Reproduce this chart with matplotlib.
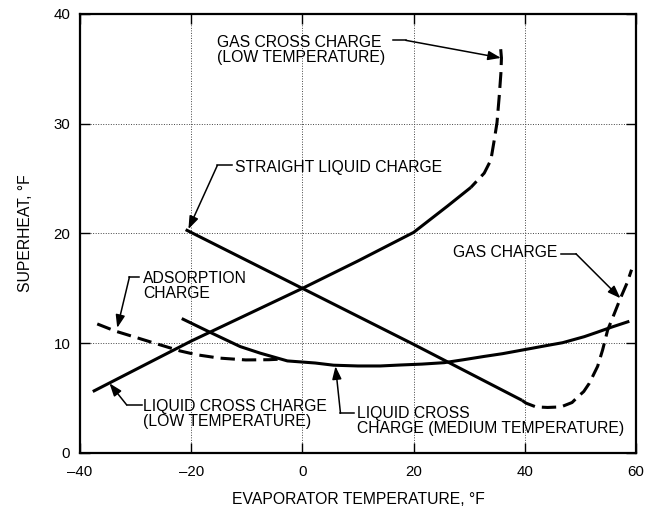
import matplotlib
matplotlib.use("Agg")
import matplotlib.pyplot as plt

plt.rcParams['font.family'] = ['Liberation Sans', 'DejaVu Sans']

# ---- data ----
straight_x = [-21.0, 0.0, 20.0, 39.5]
straight_y = [20.35, 15.0, 9.9, 4.8]

gas_x = [39.5, 40.2, 42.0, 44.1, 46.5, 48.5, 49.5, 50.6, 51.6, 53.1, 54.0, 54.9, 56.1, 57.2, 58.4, 59.2]
gas_y = [4.8, 4.55, 4.2, 4.15, 4.2, 4.6, 5.1, 5.6, 6.35, 7.9, 9.4, 11.2, 12.7, 14.1, 15.5, 16.7]

lcl_x = [-37.7, -20.0, 0.0, 10.0, 20.0, 26.1, 30.3]
lcl_y = [5.6, 10.2, 15.0, 17.5, 20.1, 22.5, 24.2]

gcl_x = [30.3, 32.7, 33.9, 34.5, 35.0, 35.4, 35.7, 35.8, 35.6]
gcl_y = [24.2, 25.5, 26.7, 28.5, 30.1, 32.5, 34.6, 36.0, 37.2]

ads_x = [-36.9, -33.6, -27.5, -22.0, -19.0, -15.0, -10.2, -6.0, -4.0]
ads_y = [11.76, 11.1, 10.15, 9.3, 8.95, 8.65, 8.48, 8.5, 8.55]

med_x = [-21.7, -16.2, -11.2, -7.6, -2.7, 2.3, 5.6, 10.0, 14.0, 17.7, 21.5, 25.5, 29.0,
         32.7, 36.0, 40.3, 43.5, 46.8, 50.7, 53.0, 55.5, 58.8]
med_y = [12.25, 10.9, 9.7, 9.1, 8.39, 8.2, 8.0, 7.93, 7.93, 8.02, 8.1, 8.23, 8.5,
         8.8, 9.05, 9.45, 9.75, 10.05, 10.6, 11.0, 11.45, 12.0]

x_ticks = [-40, -20, 0, 20, 40, 60]
x_tick_labels = ['\u201340', '\u201320', '0', '20', '40', '60']
y_ticks = [0, 10, 20, 30, 40]
y_tick_labels = ['0', '10', '20', '30', '40']

labels = [
    "GAS CROSS CHARGE\n(LOW TEMPERATURE)",
    "STRAIGHT LIQUID CHARGE",
    "ADSORPTION\nCHARGE",
    "LIQUID CROSS CHARGE\n(LOW TEMPERATURE)",
    "LIQUID CROSS\nCHARGE (MEDIUM TEMPERATURE)",
    "GAS CHARGE",
]

# ---- layout for annotations: (text pos, ha, stub start, bend, arrow tip) ----
ann_layout = [
    ((-15.3, 36.75), 'left', (16.3, 37.6), (18.6, 37.6), (35.7, 36.0)),
    ((-12.1, 26.0), 'left', (-12.7, 26.2), (-15.3, 26.2), (-20.5, 20.4)),
    ((-28.7, 15.25), 'left', (-29.4, 16.05), (-31.1, 16.05), (-33.3, 11.4)),
    ((-28.6, 3.55), 'left', (-28.9, 4.38), (-31.6, 4.38), (-34.7, 6.35)),
    ((9.85, 2.9), 'left', (9.3, 3.62), (6.85, 3.62), (5.95, 7.9)),
    ((45.9, 18.28), 'right', (46.6, 18.15), (49.2, 18.15), (57.2, 14.1)),
]

W, H = 656, 508
fig = plt.figure(figsize=(W / 100, H / 100), dpi=100)
ax = fig.add_axes([80 / W, 55 / H, 556 / W, 439 / H])

lw = 2.2
dash = (4.7, 2.3)
ax.plot(straight_x, straight_y, color='black', lw=lw, solid_capstyle='butt', zorder=3)
ax.plot(gas_x, gas_y, color='black', lw=lw, linestyle=(0, dash), zorder=3)
ax.plot(lcl_x, lcl_y, color='black', lw=lw, solid_capstyle='butt', zorder=3)
ax.plot(gcl_x, gcl_y, color='black', lw=lw, linestyle=(2.5, (5.2, 2.3)), zorder=3)
ax.plot(ads_x, ads_y, color='black', lw=lw, linestyle=(0, dash), zorder=3)
ax.plot(med_x, med_y, color='black', lw=lw, solid_capstyle='butt', zorder=3)

ax.set_xlim(-40, 60)
ax.set_ylim(0, 40)
ax.set_xticks(x_ticks)
ax.set_xticklabels(x_tick_labels)
ax.set_yticks(y_ticks)
ax.set_yticklabels(y_tick_labels)
ax.tick_params(direction='in', length=7, width=1.0, top=True, right=True,
               labelsize=10.8, colors='black')
ax.tick_params(axis='x', pad=9)
ax.tick_params(axis='y', pad=7)
for s in ax.spines.values():
    s.set_linewidth(1.6)
    s.set_color('black')
ax.set_axisbelow(True)
ax.grid(True, color='#444444', lw=0.7, linestyle=(0, (1, 1.6)))

fs = 11.3
for txt, (tpos, ha, stub0, bend, tip) in zip(labels, ann_layout):
    ax.text(tpos[0], tpos[1], txt, ha=ha, va='center', fontsize=fs,
            linespacing=1.02, color='black', zorder=4)
    ax.plot([stub0[0], bend[0]], [stub0[1], bend[1]], color='black', lw=1.1, zorder=4)
    ax.annotate('', xy=tip, xytext=bend,
                arrowprops=dict(arrowstyle='-|>,head_length=0.55,head_width=0.2',
                                color='black', lw=1.1, mutation_scale=14,
                                shrinkA=0, shrinkB=0),
                zorder=4)

ax.set_xlabel('EVAPORATOR TEMPERATURE, \u00b0F', fontsize=fs)
ax.xaxis.set_label_coords(0.5, -0.088)
ax.set_ylabel('SUPERHEAT, \u00b0F', fontsize=fs)
ax.yaxis.set_label_coords(-0.085, 0.5)

fig.savefig('out.png', dpi=100)
